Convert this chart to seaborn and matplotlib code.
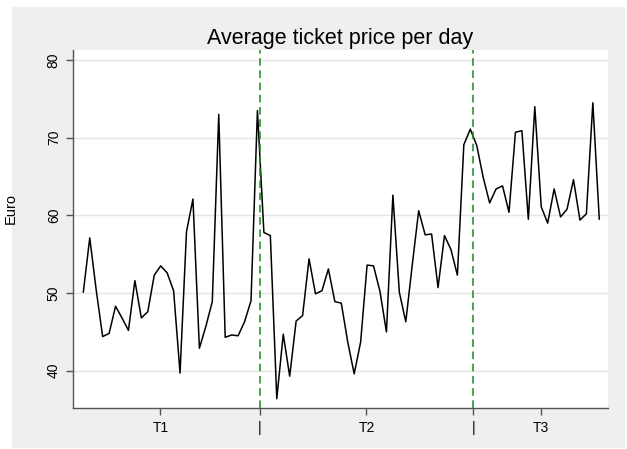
import numpy as np
import pandas as pd
import matplotlib
matplotlib.use("Agg")
import matplotlib.pyplot as plt
import seaborn as sns
from matplotlib.patches import Rectangle

# average ticket price per day (Euro)
prices = [
    50.1, 57.1, 50.4, 44.4, 44.8, 48.3, 46.8, 45.2, 51.6, 46.8,
    47.6, 52.3, 53.5, 52.6, 50.3, 39.7, 57.9, 62.1, 42.9, 45.7,
    48.9, 73.0, 44.3, 44.6, 44.5, 46.3, 49.0, 73.5, 57.8, 57.4,
    36.4, 44.7, 39.3, 46.4, 47.1, 54.4, 49.9, 50.3, 53.1, 48.9,
    48.7, 43.7, 39.6, 43.7, 53.6, 53.5, 50.2, 45.0, 62.6, 50.1,
    46.3, 53.6, 60.6, 57.5, 57.6, 50.7, 57.4, 55.6, 52.3, 69.1,
    71.1, 69.0, 64.9, 61.6, 63.4, 63.8, 60.4, 70.7, 70.9, 59.5,
    74.0, 61.1, 59.0, 63.4, 59.8, 60.8, 64.6, 59.4, 60.2, 74.5,
    59.5,
]
days = np.arange(len(prices))

# period boundaries and x tick labels
breaks = [27.4, 60.45]
tick_pos = [11.95, 27.4, 43.9, 60.45, 70.9]
tick_labels = ["T1", "|", "T2", "|", "T3"]
y_ticks = [40, 50, 60, 70, 80]

df = pd.DataFrame({"day": days, "price": prices})

sns.set_theme(style="white")
plt.rcParams["font.family"] = ["Liberation Sans", "DejaVu Sans"]

fig = plt.figure(figsize=(6.27, 4.49), dpi=100)
fig.patch.set_facecolor("white")
# grey background panel
fig.patches.append(Rectangle((0.0196, 0.002), 0.977, 0.9815, transform=fig.transFigure,
                             facecolor="#efefef", edgecolor="none", zorder=-10))
ax = fig.add_axes([0.1169, 0.0906, 0.8533, 0.798])
ax.set_facecolor("white")

sns.lineplot(data=df, x="day", y="price", color="black", linewidth=1.1, ax=ax, errorbar=None)

for b in breaks:
    ax.axvline(b, color="#1a8a1a", linestyle=(0, (5, 3)), linewidth=1.1, zorder=3)

ax.set_xlim(-1.55, 81.4)
ax.set_ylim(35.16, 81.29)
ax.set_yticks(y_ticks)
ax.set_yticklabels([str(v) for v in y_ticks], rotation=90, va="center", fontsize=10)
ax.set_xticks(tick_pos)
ax.set_xticklabels(tick_labels, fontsize=10)
ax.yaxis.grid(True, color="#e4e4e4", linewidth=1.0)
ax.set_axisbelow(True)

for s in ["top", "right"]:
    ax.spines[s].set_visible(False)
for s in ["left", "bottom"]:
    ax.spines[s].set_color("#555555")
    ax.spines[s].set_linewidth(1.0)
ax.tick_params(axis="both", which="both", length=5, width=1, color="#555555",
               labelcolor="black", bottom=True, left=True, pad=4)

ax.set_xlabel("")
ax.set_ylabel("")
fig.text(0.017, 0.535, "Euro", rotation=90, ha="center", va="center", fontsize=10.5, color="black")
fig.text(0.543, 0.915, "Average ticket price per day", ha="center", va="center",
         fontsize=15.5, color="black")

fig.savefig("out.png", dpi=100)
